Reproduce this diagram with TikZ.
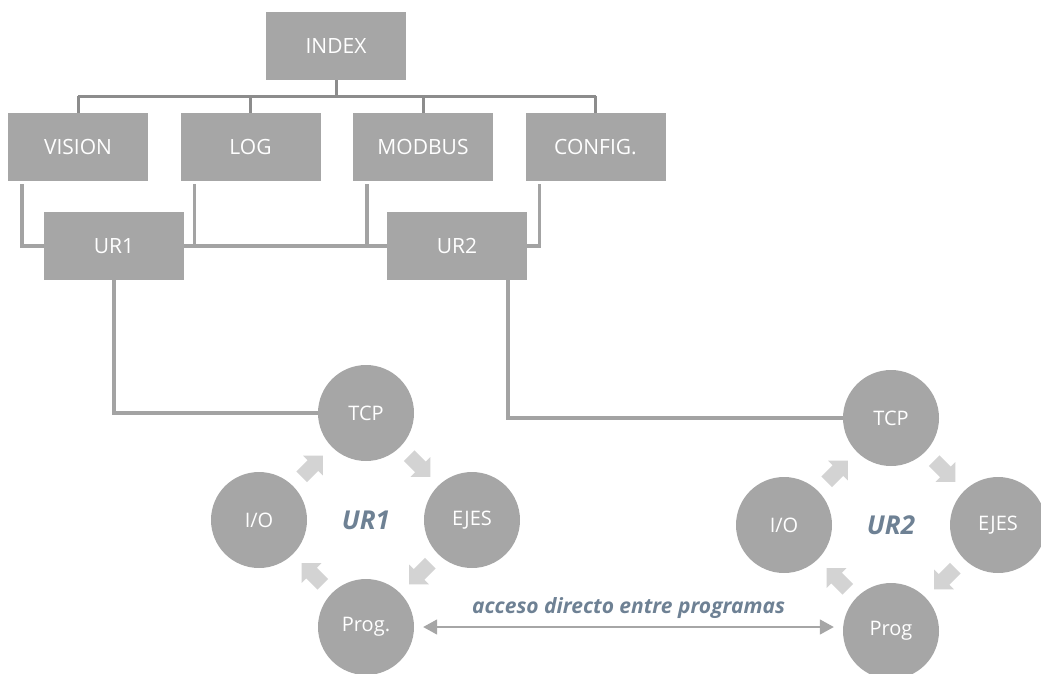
\documentclass[tikz,border=0pt]{standalone}
\usepackage{fontspec}
\setmainfont{Open Sans}
\usetikzlibrary{arrows.meta,calc}

\definecolor{cajagris}{HTML}{A6A6A6}
\definecolor{ramagris}{HTML}{8C8C8C}
\definecolor{enlacegris}{HTML}{A3A3A3}
\definecolor{girogris}{HTML}{D3D3D3}
\definecolor{pizarra}{HTML}{6E8194}

\tikzset{
	giro/.pic={
		\fill[girogris] (-15,-7.5) -- (1,-7.5) -- (1,-14) -- (15,0) -- (1,14) -- (1,7.5) -- (-15,7.5) -- cycle;
	}
}

\begin{document}
\begin{tikzpicture}[
	x=1pt, y=-1pt,
	modulo/.style={
		rectangle,
		fill=cajagris,
		text=white,
		align=center,
		font=\fontsize{21}{25}\selectfont,
		minimum height=68pt,
		minimum width=140pt
	},
	nodo/.style={
		circle,
		fill=cajagris,
		text=white,
		inner sep=0pt,
		font=\fontsize{20}{24}\selectfont,
		minimum size=96pt
	},
	robot/.style={
		text=pizarra,
		font=\fontsize{26}{30}\selectfont\bfseries\itshape
	},
	rama/.style={draw=ramagris, line width=3pt},
	enlace/.style={draw=enlacegris, line width=3.5pt},
	doble/.style={
		draw=cajagris,
		line width=1.6pt,
		{Triangle[length=14pt,width=15pt]}-{Triangle[length=14pt,width=15pt]},
		shorten <=9pt,
		shorten >=9pt
	},
]

\useasboundingbox (0,0) rectangle (1041,673);

% Index tree
\node[modulo] (index) at (336,46) {INDEX};
\foreach \n/\t [count=\i from 0] in {vision/VISION, log/LOG, modbus/MODBUS, config/CONFIG.}
	\node[modulo] (\n) at (78+172.5*\i,147) {\t};

\node[modulo] (ur1) at (114,246) {UR1};
\node[modulo] (ur2) at (457,246) {UR2};

\coordinate (bus) at (336,96);
\draw[rama] (index) -- (bus);
\draw[rama] (vision.north |- bus) -- (config.north |- bus);
\foreach \n in {vision, log, modbus, config}
	\draw[rama] (\n.north |- bus) -- (\n.north);

% Modules down to the robots
\foreach \n in {vision, log, modbus, config}
	\coordinate (\n0) at ([xshift=14pt,yshift=-3pt]\n.south west);

\draw[enlace] (vision0) |- (ur1.west);
\draw[enlace] (ur1.east) -- (ur2.west);
\draw[enlace] (log0) -- (log0 |- ur1.east);
\draw[enlace] (modbus0) -- (modbus0 |- ur2.west);
\draw[enlace] (config0) |- (ur2.east);

% Robot UR1
\node[robot] (c1) at (366,520) {UR1};
\node[nodo] (tcp1) at ([yshift=107pt]c1) {TCP};
\node[nodo] (ejes1) at ([xshift=106pt]c1) {EJES};
\node[nodo] (prog1) at ([yshift=-107pt]c1) {Prog.};
\node[nodo] (io1) at ([xshift=-107pt]c1) {I/O};

% Robot UR2
\node[robot] (c2) at (891,525) {UR2};
\node[nodo] (tcp2) at ([yshift=107pt]c2) {TCP};
\node[nodo] (ejes2) at ([xshift=107pt]c2) {EJES};
\node[nodo] (prog2) at ([yshift=-106pt]c2) {Prog};
\node[nodo] (io2) at ([xshift=-107pt]c2) {I/O};

% cycle arrows
\foreach \c in {c1, c2}
	\foreach \a in {45, 135, 225, 315}
		\pic[rotate=\a-90] at ([shift={(\a:76pt)}]\c) {giro};

\draw[enlace] (ur1.south) |- (tcp1.west);
\draw[enlace] ([xshift=51pt]ur2.south) |- (tcp2.west);

\draw[doble] (prog1.east) -- (prog1.east -| prog2.west)
	node[midway, above=4pt, robot, font=\fontsize{21}{25}\selectfont\bfseries\itshape] (acceso) {acceso directo entre programas};

\end{tikzpicture}
\end{document}
